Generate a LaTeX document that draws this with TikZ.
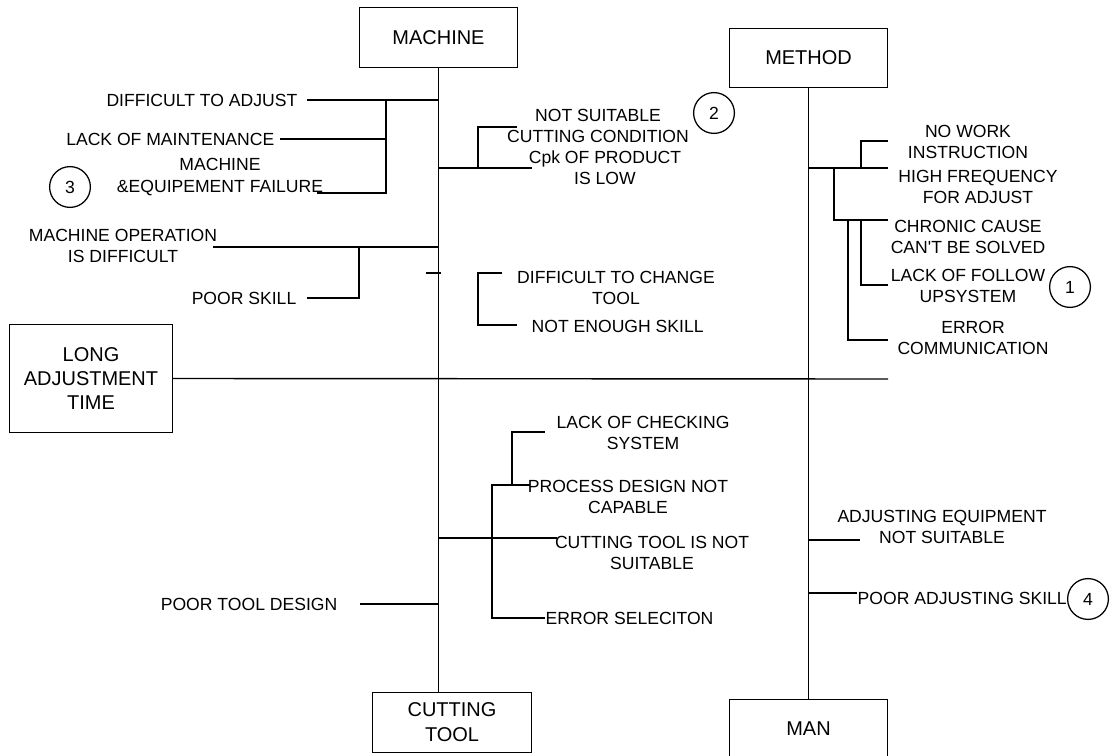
\documentclass[tikz,border=0pt]{standalone}
\usepackage{fontspec}
\setmainfont{Liberation Sans}
\begin{document}
\begin{tikzpicture}[x=0.025cm, y=-0.025cm, line width=1pt,
    catbox/.style={rectangle, draw, line width=0.7pt, minimum width=3.97cm, minimum height=1.48cm,
        inner sep=0pt, align=center, font=\fontsize{14.2}{17.4}\selectfont},
    cause/.style={align=center, inner sep=0pt, font=\fontsize{12.5}{15}\selectfont},
    num/.style={circle, draw, line width=0.9pt, minimum size=1.02cm, inner sep=0pt,
        font=\fontsize{12.5}{15}\selectfont}]
    \useasboundingbox (0,0) rectangle (1115,755);

    % Define categories
    \node[catbox] (mach) at (438.5, 37.5) {MACHINE};
    \node[catbox] (meth) at (808.5, 58) {METHOD};
    \node[catbox, minimum width=3.95cm, minimum height=1.5cm] (cut) at (452, 722) {CUTTING\\TOOL};
    \node[catbox, minimum height=1.5cm] (man) at (808.5, 729) {MAN};
    \node[catbox, minimum width=4.05cm, minimum height=2.675cm] (lat) at (91, 378.5) {LONG\\ADJUSTMENT\\TIME};

    % Define causes
    \node[cause, anchor=east] (dta) at (298, 100) {DIFFICULT TO ADJUST};
    \node[cause, anchor=east] (lom) at (275, 139) {LACK OF MAINTENANCE};
    \node[cause] (mef) at (220, 177) {MACHINE\\\&EQUIPEMENT FAILURE};
    \node[cause] (mod) at (123, 245.5) {MACHINE OPERATION\\IS DIFFICULT};
    \node[cause, anchor=east] (psk) at (297, 298) {POOR SKILL};
    \node[cause] (nsc) at (598, 125.5) {NOT SUITABLE\\CUTTING CONDITION};
    \node[cause] (cpk) at (605, 167.5) {Cpk OF PRODUCT\\IS LOW};
    \node[cause] (dct) at (616, 288) {DIFFICULT TO CHANGE\\TOOL};
    \node[cause, anchor=west] (nes) at (531, 326) {NOT ENOUGH SKILL};

    \node[cause] (nwi) at (968, 142) {NO WORK\\INSTRUCTION};
    \node[cause] (hfa) at (978, 187) {HIGH FREQUENCY\\FOR ADJUST};
    \node[cause] (ccs) at (968, 236.5) {CHRONIC CAUSE\\CAN{\textquotesingle}T BE SOLVED};
    \node[cause] (lfu) at (968, 286) {LACK OF FOLLOW\\UPSYSTEM};
    \node[cause] (erc) at (973, 338) {ERROR\\COMMUNICATION};

    \node[cause] (lcs) at (643, 432.5) {LACK OF CHECKING\\SYSTEM};
    \node[cause] (pdn) at (628, 496.5) {PROCESS DESIGN NOT\\CAPABLE};
    \node[cause] (ctn) at (652, 552.5) {CUTTING TOOL IS NOT\\SUITABLE};
    \node[cause, anchor=west] (ers) at (545, 618) {ERROR SELECITON};
    \node[cause, anchor=east] (ptd) at (338, 604) {POOR TOOL DESIGN};

    \node[cause] (aes) at (942, 527) {ADJUSTING EQUIPMENT\\NOT SUITABLE};
    \node[cause, anchor=west] (pas) at (857, 598) {POOR ADJUSTING SKILL};

    % Priority marks
    \node[num] (n1) at (1070, 287) {1};
    \node[num] (n2) at (714, 113) {2};
    \node[num] (n3) at (70, 187) {3};
    \node[num] (n4) at (1088, 599) {4};

    % Line ends and joints
    \coordinate (head) at (888, 379);
    \coordinate (a1) at (307, 100);
    \coordinate (a2) at (280, 139);
    \coordinate (a3) at (317, 193);
    \coordinate (a4) at (213, 247);
    \coordinate (a5) at (307, 298);
    \coordinate (a6) at (532, 168);
    \coordinate (a7) at (517, 127);
    \coordinate (a8) at (426, 273);
    \coordinate (a8b) at (441, 273);
    \coordinate (a9) at (502, 273);
    \coordinate (a10) at (517, 325);
    \coordinate (ja) at (386, 100);
    \coordinate (jb) at (359, 247);
    \coordinate (jc) at (478, 168);
    \coordinate (jd) at (478, 273);

    \coordinate (b1) at (557, 538);
    \coordinate (b2) at (530, 485);
    \coordinate (b3) at (545, 618);
    \coordinate (b4) at (545, 432);
    \coordinate (b5) at (360, 604);
    \coordinate (je) at (492, 485);
    \coordinate (jf) at (512, 485);

    \coordinate (c1) at (888, 168);
    \coordinate (c2) at (888, 141);
    \coordinate (c3) at (888, 220);
    \coordinate (c4) at (888, 285);
    \coordinate (c5) at (888, 340);
    \coordinate (jg) at (861, 168);
    \coordinate (jh) at (834, 168);
    \coordinate (ji) at (861, 220);
    \coordinate (jj) at (848, 220);

    \coordinate (d1) at (860, 540);
    \coordinate (d2) at (857, 593);

    % Draw bones
    \draw (lat.east) -- (head);
    \draw (mach.south) -- (mach.south |- cut.north);
    \draw (meth.south) -- (man.north);

    % machine
    \draw (a1) -- (a1 -| mach.south);
    \draw (a2) -| (ja);
    \draw (a3) -| (ja);
    \draw (a4) -- (a4 -| mach.south);
    \draw (a5) -| (jb);
    \draw (mach.south |- a6) -- (a6);
    \draw (a7) -| (jc);
    \draw (a8) -- (a8b);
    \draw (a9) -- (jd) |- (a10);

    % cutting tool
    \draw (mach.south |- b1) -- (b1);
    \draw (b2) -- (je) |- (b3);
    \draw (jf) |- (b4);
    \draw (b5) -- (b5 -| mach.south);

    % method
    \draw (meth.south |- c1) -- (c1);
    \draw (c2) -| (jg);
    \draw (c3) -| (jh);
    \draw (c4) -| (ji);
    \draw (c5) -| (jj);

    % man
    \draw (meth.south |- d1) -- (d1);
    \draw (meth.south |- d2) -- (d2);
\end{tikzpicture}
\end{document}
